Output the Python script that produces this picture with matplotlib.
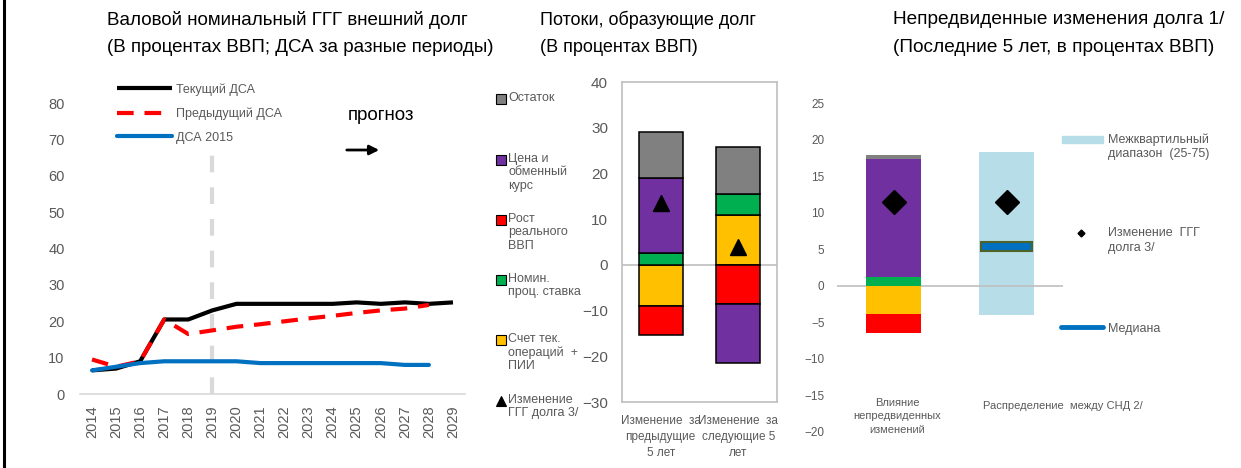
import matplotlib
matplotlib.use("Agg")
import matplotlib.pyplot as plt
from matplotlib.lines import Line2D
from matplotlib.patches import Rectangle
import numpy as np

plt.rcParams['font.family'] = ['Liberation Sans', 'DejaVu Sans']

# ---------------- data ----------------
years = list(range(2014, 2030))
cur_dsa = [6.5, 7.0, 9.0, 20.5, 20.5, 23.0, 24.8, 24.8, 24.8, 24.8, 24.8, 25.2, 24.8, 25.2, 24.8, 25.2]
prev_dsa = [9.5, 7.5, 9.0, 20.5, 16.5, 17.5, 18.5, 19.2, 20.0, 20.8, 21.5, 22.3, 23.0, 23.5, 24.5]
dsa_2015 = [6.5, 7.5, 8.5, 9.0, 9.0, 9.0, 9.0, 8.5, 8.5, 8.5, 8.5, 8.5, 8.5, 8.0, 8.0]
proj_start = 2019

flow_cats = ["Изменение  за\nпредыдущие\n5 лет", "Изменение  за\nследующие 5\nлет"]
# stacking order: current account, interest, real growth, price/exch, residual
ca_fdi = [-9.1, 11.0]
nom_rate = [2.7, 4.4]
real_gdp = [-6.3, -8.5]
price_exch = [16.4, -13.0]
residual = [10.0, 10.3]
debt_change = [13.5, 4.0]

shock_cat = "Влияние\nнепредвиденных\nизменений"
dist_cat = "Распределение  между СНД 2/"
shock_vals = [-3.9, 1.2, -2.5, 16.1, 0.6]   # same order as flows
shock_change = 11.5
iqr_low, iqr_high = -4.0, 18.3
median_val = 5.35
dist_change = 11.5

C_GREY = "#808080"
C_PURPLE = "#7030a0"
C_RED = "#ff0000"
C_GREEN = "#00b050"
C_YELLOW = "#ffc000"
C_LBLUE = "#b7dee8"
C_BLUE = "#0070c0"
TXT = "#595959"

W, H = 1241, 468
fig = plt.figure(figsize=(W / 100, H / 100), dpi=100)


def fx(px):
    return px / W


def fy(py):
    return 1 - py / H


# left border line
fig.add_artist(Line2D([fx(4), fx(4)], [0, 1], color="black", lw=2.2))

# titles
fig.text(fx(107), fy(20), "Валовой номинальный ГГГ внешний долг", fontsize=13.5, va="center")
fig.text(fx(107), fy(47), "(В процентах ВВП; ДСА за разные периоды)", fontsize=13.5, va="center")
fig.text(fx(540), fy(20), "Потоки, образующие долг", fontsize=13, va="center")
fig.text(fx(540), fy(47), "(В процентах ВВП)", fontsize=13, va="center")
fig.text(fx(893), fy(20), "Непредвиденные изменения долга 1/", fontsize=13.7, va="center")
fig.text(fx(893), fy(47), "(Последние 5 лет, в процентах ВВП)", fontsize=13.7, va="center")

# ---------------- left panel ----------------
ax1 = fig.add_axes([fx(80), fy(394), fx(385), fy(85) - fy(394)])
ax1.plot([proj_start, proj_start], [0, 67.6], color="#d9d9d9", lw=3, dashes=(4, 3.6))
ax1.plot(years, cur_dsa, color="black", lw=3, label="Текущий ДСА", solid_capstyle="butt")
ax1.plot(years[:len(prev_dsa)], prev_dsa, color=C_RED, lw=3, dashes=(4, 2.6),
         label="Предыдущий ДСА")
ax1.plot(years[:len(dsa_2015)], dsa_2015, color=C_BLUE, lw=3, label="ДСА 2015",
         solid_capstyle="round")
ax1.set_xlim(2013.5, 2029.5)
ax1.set_ylim(0, 85)
ax1.set_yticks(range(0, 81, 10))
ax1.set_xticks(years)
ax1.set_xticklabels([str(y) for y in years], rotation=90)
ax1.tick_params(axis="both", length=0, labelsize=10.5, colors=TXT)
ax1.tick_params(axis="y", pad=11)
ax1.tick_params(axis="x", pad=8)
for s in ["left", "top", "right"]:
    ax1.spines[s].set_visible(False)
ax1.spines["bottom"].set_color("#d9d9d9")
ax1.spines["bottom"].set_linewidth(1.2)
ax1.patch.set_alpha(0)
leg = ax1.legend(loc="upper left", bbox_to_anchor=(fx(117), fy(83)),
                 bbox_transform=fig.transFigure, frameon=False, fontsize=9,
                 handlelength=4.4, handletextpad=0.3, labelspacing=0.95,
                 borderpad=0, borderaxespad=0)
for t in leg.get_texts():
    t.set_color(TXT)
fig.text(fx(348), fy(116), "прогноз", fontsize=13.5, va="center")
ax1.annotate("", xy=(fx(382), fy(150)), xytext=(fx(344), fy(150)),
             xycoords="figure fraction", textcoords="figure fraction",
             arrowprops=dict(arrowstyle="-|>", color="black", lw=2, mutation_scale=14))

# ---------------- middle panel ----------------
ax2 = fig.add_axes([fx(622), fy(402), fx(155), fy(82) - fy(402)])
series = [(ca_fdi, C_YELLOW), (nom_rate, C_GREEN), (real_gdp, C_RED),
          (price_exch, C_PURPLE), (residual, C_GREY)]
xpos = np.arange(len(flow_cats))
pos_base = np.zeros(len(flow_cats))
neg_base = np.zeros(len(flow_cats))
for vals, col in series:
    v = np.array(vals)
    bottoms = np.where(v >= 0, pos_base, neg_base)
    ax2.bar(xpos, v, bottom=bottoms, width=0.57, color=col, edgecolor="black", lw=1.1, zorder=3)
    pos_base = pos_base + np.where(v >= 0, v, 0)
    neg_base = neg_base + np.where(v < 0, v, 0)
ax2.plot(xpos, debt_change, linestyle="none", marker="^", ms=11.5, color="black", zorder=4)
ax2.axhline(0, color="#bfbfbf", lw=1.2, zorder=2)
ax2.set_xlim(-0.5, 1.5)
ax2.set_ylim(-30, 40)
ax2.set_yticks(range(-30, 41, 10))
ax2.set_xticks(xpos)
ax2.set_xticklabels(flow_cats, fontsize=8.5, linespacing=1.5)
ax2.tick_params(axis="both", length=0, colors=TXT)
ax2.tick_params(axis="y", labelsize=11, pad=10)
ax2.tick_params(axis="x", pad=9)
for s in ax2.spines.values():
    s.set_color("#bfbfbf")
    s.set_linewidth(1.2)

# middle legend (manual, Excel-style)
leg_items = [
    (99, "s", C_GREY, "Остаток"),
    (160, "s", C_PURPLE, "Цена и\nобменный\nкурс"),
    (220, "s", C_RED, "Рост\nреального\nВВП"),
    (280, "s", C_GREEN, "Номин.\nпроц. ставка"),
    (340, "s", C_YELLOW, "Счет тек.\nопераций  +\nПИИ"),
    (401, "^", "black", "Изменение\nГГГ долга 3/"),
]
for py, mk, col, lab in leg_items:
    fig.add_artist(Line2D([fx(501)], [fy(py)], marker=mk, ms=6.5 if mk == "s" else 7,
                          color=col, markeredgecolor="black", mew=0.8, linestyle="none"))
    fig.text(fx(508), fy(py - 7), lab, fontsize=9, va="top", color=TXT, linespacing=1.15)

# ---------------- right panel ----------------
ax3 = fig.add_axes([fx(837), fy(432), fx(226), fy(103) - fy(432)])
cols = [C_YELLOW, C_GREEN, C_RED, C_PURPLE, C_GREY]
pb, nb = 0.0, 0.0
for v, col in zip(shock_vals, cols):
    if v >= 0:
        ax3.bar(0, v, bottom=pb, width=0.48, color=col, zorder=3)
        pb += v
    else:
        ax3.bar(0, v, bottom=nb, width=0.48, color=col, zorder=3)
        nb += v
ax3.bar(1, iqr_high - iqr_low, bottom=iqr_low, width=0.48, color=C_LBLUE, zorder=1)
ax3.bar(1, 1.3, bottom=median_val - 0.65, width=0.45, color=C_BLUE, edgecolor="#4f6228",
        lw=1.5, zorder=3)
ax3.plot([0, 1], [shock_change, dist_change], linestyle="none", marker="D", ms=12,
         color="black", zorder=4)
ax3.axhline(0, color="#bfbfbf", lw=1.2, zorder=2)
ax3.set_xlim(-0.5, 1.5)
ax3.set_ylim(-20, 25)
ax3.set_yticks(range(-20, 26, 5))
ax3.set_xticks([])
ax3.tick_params(axis="y", length=0, labelsize=8.5, colors=TXT, pad=9)
for s in ax3.spines.values():
    s.set_visible(False)
ax3.patch.set_alpha(0)
ax3.text(0.03, -15.3, shock_cat, ha="center", va="top", fontsize=8, color=TXT, linespacing=1.45)
ax3.text(1.5, -16.4, dist_cat, ha="center", va="center", fontsize=8, color=TXT)

# right legend
fig.add_artist(Rectangle((fx(1062), fy(143)), fx(41), fy(136) - fy(143), color=C_LBLUE))
fig.text(fx(1108), fy(133), "Межквартильный\nдиапазон  (25-75)", fontsize=9, va="top",
         color=TXT, linespacing=1.3)
fig.add_artist(Line2D([fx(1081)], [fy(233)], marker="D", ms=3.5, color="black", linestyle="none"))
fig.text(fx(1108), fy(227), "Изменение  ГГГ\nдолга 3/", fontsize=9, va="top",
         color=TXT, linespacing=1.3)
fig.add_artist(Line2D([fx(1061), fx(1103)], [fy(327), fy(327)], color=C_BLUE, lw=3.5,
                      solid_capstyle="round"))
fig.text(fx(1108), fy(329), "Медиана", fontsize=9, va="center", color=TXT)

fig.savefig("out.png", dpi=100)
